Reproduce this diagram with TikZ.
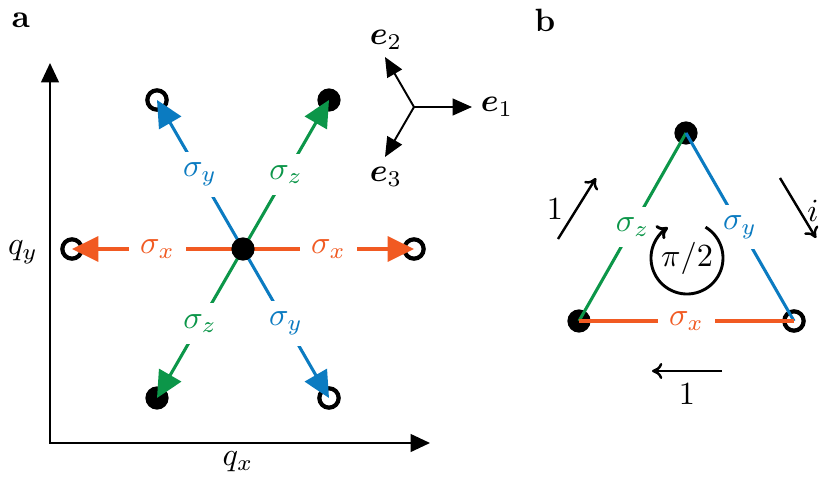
\documentclass[tikz,border=0pt]{standalone}
\usepackage{amsmath,bm}
\usetikzlibrary{arrows.meta}
\definecolor{sx}{HTML}{F15A22}
\definecolor{sy}{HTML}{0B7BC1}
\definecolor{sz}{HTML}{0C9649}
\tikzset{fdot/.style={circle,fill=black,inner sep=0pt,minimum size=7.2pt},
  odot/.style={circle,draw=black,line width=1.3pt,inner sep=0pt,minimum size=6pt},
  axis/.style={{Triangle[length=6pt,width=5.5pt]}-{Triangle[length=6pt,width=5.5pt]},line width=0.6pt},
  tri/.style={-{Triangle[length=6pt,width=5.2pt]},line width=0.6pt},
  sarr/.style={draw=#1,line width=0.95pt,-{Triangle[length=8.2pt,width=7.8pt]}},
  side/.style={draw=#1,line width=0.95pt},
  lab/.style={fill=white,text=#1},
  barb/.style={-{Computer Modern Rightarrow[length=3.2pt,width=5pt]},line width=0.75pt}}
\begin{document}
\begin{tikzpicture}[x=0.31pt,y=-0.31pt]
\useasboundingbox (0,0) rectangle (830,483);
% panel a
\node[font=\bfseries] (pa) at (21,20) {a};
\coordinate (org) at (50,443);
\coordinate (ytip) at (50,63);
\coordinate (xtip) at (430,443);
\draw[axis] (ytip) -- (org) -- (xtip);
\node (qy) at (23,252) {$q_y$};
\node (qx) at (238,462) {$q_x$};
\coordinate (o) at (243,249);
\node[odot] (l) at (72,249) {};
\node[odot] (r) at (414,249) {};
\node[odot] (ul) at (157,100) {};
\node[fdot] (ur) at (329,100) {};
\node[fdot] (ll) at (157,398) {};
\node[odot] (lr) at (329,398) {};
\draw[sarr=sx] (o) -- node[lab=sx]{$\sigma_x$} (l.center);
\draw[sarr=sx] (o) -- node[lab=sx]{$\sigma_x$} (r.center);
\draw[sarr=sy] (o) -- node[lab=sy]{$\sigma_y$} (ul.center);
\draw[sarr=sy] (o) -- node[lab=sy]{$\sigma_y$} (lr.center);
\draw[sarr=sz] (o) -- node[lab=sz]{$\sigma_z$} (ur.center);
\draw[sarr=sz] (o) -- node[lab=sz]{$\sigma_z$} (ll.center);
\node[fdot] (ctr) at (o) {};
% basis vectors
\coordinate (t) at (414,107);
\coordinate (t1) at (472,107);
\coordinate (t2) at (385,57);
\coordinate (t3) at (385,157);
\draw[tri] (t) -- (t1);
\draw[tri] (t) -- (t2);
\draw[tri] (t) -- (t3);
\node (e1) at (497,107) {$\bm{e}_1$};
\node (e2) at (386,40) {$\bm{e}_2$};
\node (e3) at (386,177) {$\bm{e}_3$};
% panel b
\node[font=\bfseries] (pb) at (545,20) {b};
\node[fdot] (A) at (686,133) {};
\node[fdot] (B) at (579,321) {};
\node[odot] (C) at (794,321) {};
\draw[side=sz] (B.center) -- node[lab=sz]{$\sigma_z$} (A.center);
\draw[side=sy] (A.center) -- node[lab=sy]{$\sigma_y$} (C.center);
\draw[side=sx] (B.center) -- node[lab=sx]{$\sigma_x$} (C.center);
\node (rot) at (687,258) {$\pi/2$};
\draw[barb,line width=0.9pt] (rot.center) ++(-59:36) arc[start angle=-59,end angle=238,radius=36];
\coordinate (h1s) at (558,239);
\coordinate (h1e) at (596,178);
\coordinate (h2s) at (780,178);
\coordinate (h2e) at (816,238);
\coordinate (h3s) at (722,371);
\coordinate (h3e) at (652,371);
\draw[barb] (h1s) -- (h1e);
\draw[barb] (h2s) -- (h2e);
\draw[barb] (h3s) -- (h3e);
\node (w1) at (555,209) {$1$};
\node (w2) at (813,211) {$i$};
\node (w3) at (687,394) {$1$};
\end{tikzpicture}
\end{document}
